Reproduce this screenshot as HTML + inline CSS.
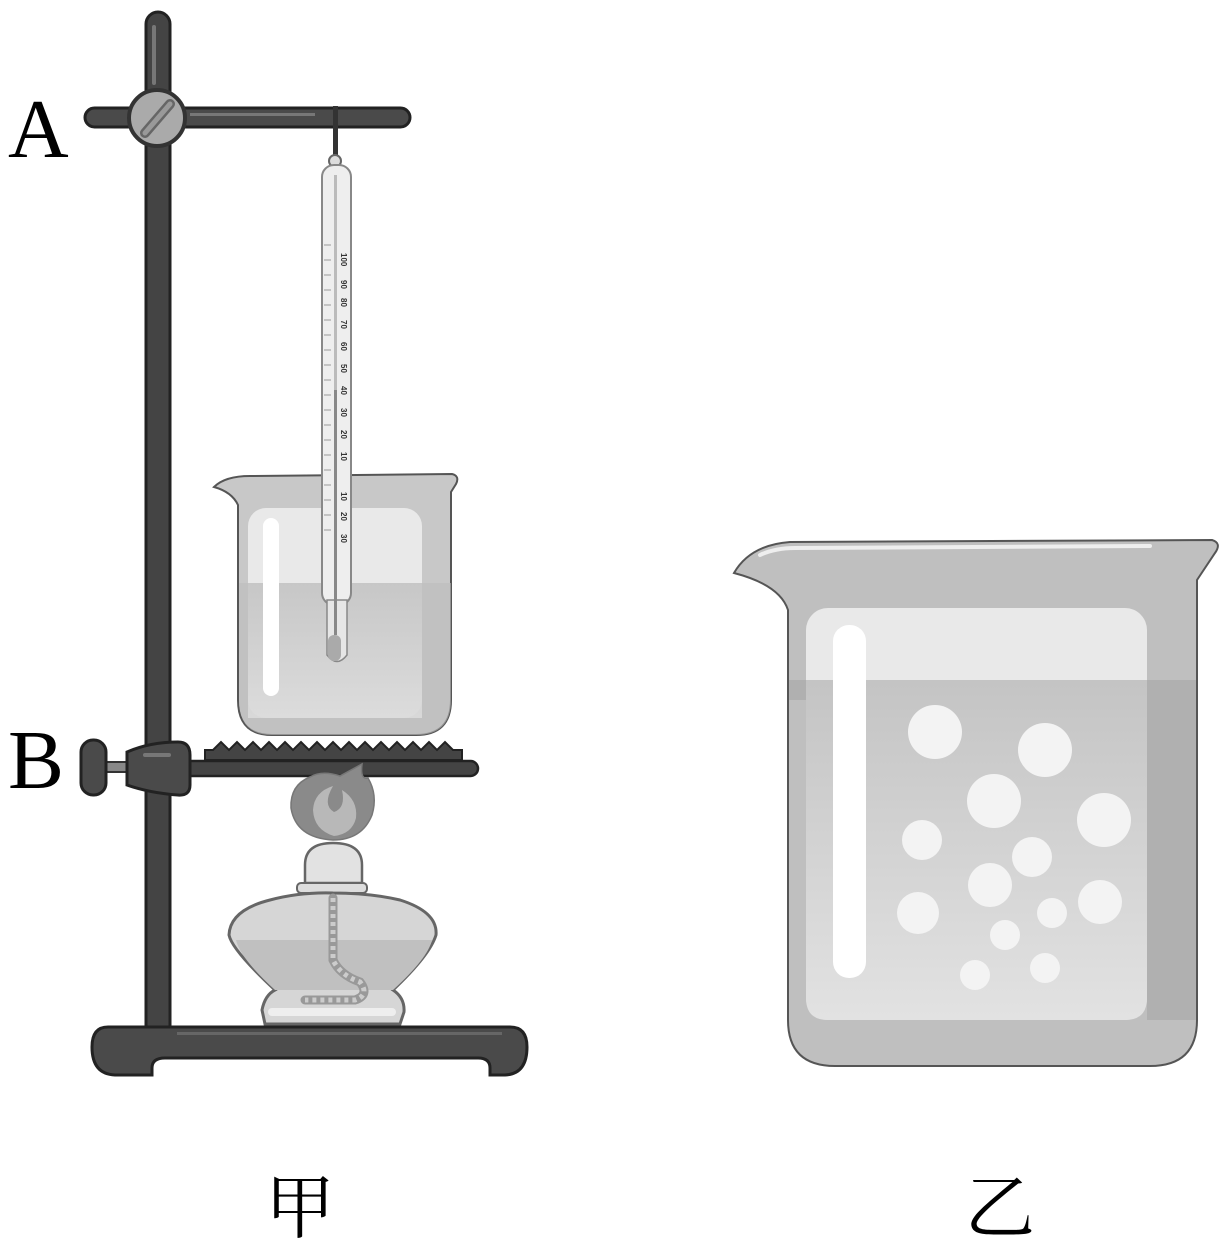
<!DOCTYPE html>
<html><head><meta charset="utf-8"><style>html,body{margin:0;padding:0;background:#fff}svg{display:block}</style></head><body>
<svg width="1227" height="1258" viewBox="0 0 1227 1258" xmlns="http://www.w3.org/2000/svg">
<defs>
<linearGradient id="wat" x1="0" y1="0" x2="0" y2="1"><stop offset="0" stop-color="#c4c4c4"/><stop offset="1" stop-color="#e2e2e2"/></linearGradient>
</defs>
<!-- labels -->
<text x="8" y="157" font-family="Liberation Serif, serif" font-size="84">A</text>
<text x="8" y="788" font-family="Liberation Serif, serif" font-size="84">B</text>
<text x="300" y="1232" text-anchor="middle" font-family="'Noto Serif CJK SC', serif" font-size="70">甲</text>
<text x="1000" y="1232" text-anchor="middle" font-family="'Noto Serif CJK SC', serif" font-size="70">乙</text>

<!-- stand rod -->
<rect x="146" y="12" width="24" height="1030" rx="12" fill="#444" stroke="#222" stroke-width="3"/>
<rect x="152" y="25" width="4" height="60" rx="2" fill="#777"/>
<!-- top arm -->
<rect x="85" y="108" width="325" height="19" rx="9.5" fill="#4a4a4a" stroke="#222" stroke-width="3"/>
<rect x="190" y="113" width="125" height="3" fill="#777"/>
<circle cx="157" cy="118" r="28" fill="#aaa" stroke="#333" stroke-width="4"/>
<path d="M145 133 L170 104" stroke="#666" stroke-width="10" stroke-linecap="round"/>
<path d="M145 133 L170 104" stroke="#999" stroke-width="5" stroke-linecap="round"/>
<!-- hanger -->
<rect x="333" y="106" width="5" height="52" fill="#333"/>
<circle cx="335" cy="161" r="6" fill="#ddd" stroke="#666" stroke-width="2"/>

<!-- beaker 1 -->
<path d="M214 487 Q225 476 250 476 L452 474 Q460 476 456 484 L451 492 L451 700 Q451 735 416 735 L272 735 Q238 735 238 700 L238 505 Q232 492 214 487 Z" fill="#c8c8c8" stroke="#555" stroke-width="2"/>
<rect x="248" y="508" width="174" height="210" rx="18" fill="#e9e9e9"/>
<path d="M239 583 L451 583 L451 700 Q451 735 416 735 L272 735 Q239 735 239 700 Z" fill="#bdbdbd" opacity="0.6"/>
<rect x="248" y="583" width="174" height="135" fill="url(#wat)" opacity="0.7"/>
<rect x="263" y="518" width="16" height="178" rx="8" fill="#fff"/>
<!-- thermometer -->
<rect x="322" y="165" width="29" height="440" rx="12" fill="#eee" stroke="#888" stroke-width="2"/>
<path d="M327 600 L327 655 Q337 668 347 655 L347 600 Z" fill="#e6e6e6" stroke="#888" stroke-width="1.5"/>
<rect x="328" y="635" width="13" height="26" rx="6" fill="#aaa"/>
<rect x="334" y="175" width="3" height="460" fill="#bbb"/>
<rect x="334" y="390" width="3" height="245" fill="#888"/>
<g stroke="#999" stroke-width="1">
<line x1="324" y1="245" x2="331" y2="245"/><line x1="324" y1="260" x2="331" y2="260"/><line x1="324" y1="275" x2="331" y2="275"/><line x1="324" y1="290" x2="331" y2="290"/><line x1="324" y1="305" x2="331" y2="305"/><line x1="324" y1="320" x2="331" y2="320"/><line x1="324" y1="335" x2="331" y2="335"/><line x1="324" y1="350" x2="331" y2="350"/><line x1="324" y1="365" x2="331" y2="365"/><line x1="324" y1="380" x2="331" y2="380"/><line x1="324" y1="395" x2="331" y2="395"/><line x1="324" y1="410" x2="331" y2="410"/><line x1="324" y1="425" x2="331" y2="425"/><line x1="324" y1="440" x2="331" y2="440"/><line x1="324" y1="455" x2="331" y2="455"/><line x1="324" y1="470" x2="331" y2="470"/><line x1="324" y1="485" x2="331" y2="485"/><line x1="324" y1="500" x2="331" y2="500"/><line x1="324" y1="515" x2="331" y2="515"/><line x1="324" y1="530" x2="331" y2="530"/>
</g>
<g font-family="Liberation Sans, sans-serif" font-size="8" font-weight="bold" fill="#333">
<text transform="translate(341,253) rotate(90)">100</text>
<text transform="translate(341,280) rotate(90)">90</text>
<text transform="translate(341,298) rotate(90)">80</text>
<text transform="translate(341,320) rotate(90)">70</text>
<text transform="translate(341,342) rotate(90)">60</text>
<text transform="translate(341,364) rotate(90)">50</text>
<text transform="translate(341,386) rotate(90)">40</text>
<text transform="translate(341,408) rotate(90)">30</text>
<text transform="translate(341,430) rotate(90)">20</text>
<text transform="translate(341,452) rotate(90)">10</text>
<text transform="translate(341,492) rotate(90)">10</text>
<text transform="translate(341,512) rotate(90)">20</text>
<text transform="translate(341,534) rotate(90)">30</text>
</g>

<!-- gauze -->
<path d="M205 760 L205 750 L213 750 L221 742 L229 750 L237 742 L245 750 L253 742 L261 750 L269 742 L277 750 L285 742 L293 750 L301 742 L309 750 L317 742 L325 750 L333 742 L341 750 L349 742 L357 750 L365 742 L373 750 L381 742 L389 750 L397 742 L405 750 L413 742 L421 750 L429 742 L437 750 L445 742 L453 750 L462 750 L462 760 Z" fill="#444" stroke="#222" stroke-width="2"/>
<rect x="180" y="761" width="298" height="15" rx="7.5" fill="#444" stroke="#222" stroke-width="2.5"/>
<!-- B clamp -->
<rect x="100" y="762" width="30" height="10" fill="#888" stroke="#333" stroke-width="2"/>
<rect x="81" y="740" width="25" height="55" rx="12" fill="#4a4a4a" stroke="#222" stroke-width="3"/>
<path d="M127 752 Q150 742 178 742 Q190 742 190 755 L190 785 Q190 796 178 795 Q150 793 127 785 Z" fill="#4a4a4a" stroke="#222" stroke-width="3"/>
<rect x="143" y="753" width="28" height="4" rx="2" fill="#777"/>

<!-- flame -->
<path d="M333 840 Q296 838 291 808 Q290 785 310 777 Q322 770 340 776 L362 764 Q360 780 368 778 Q378 795 372 815 Q362 840 333 840 Z" fill="#8a8a8a" stroke="#777" stroke-width="1.5"/>
<path d="M334 836 Q314 830 313 810 Q314 792 333 786 Q322 805 334 812 Q346 808 342 790 Q358 800 356 818 Q352 834 334 836 Z" fill="#b8b8b8"/>
<!-- lamp -->
<path d="M305 883 L305 865 Q305 843 333 843 Q362 843 362 865 L362 883 Z" fill="#e2e2e2" stroke="#666" stroke-width="2.5"/>
<rect x="297" y="883" width="70" height="10" rx="4" fill="#ddd" stroke="#666" stroke-width="2"/>
<path d="M265 1024 L262 1010 Q265 995 275 990 Q232 950 229 935 Q230 910 270 900 Q300 892 333 893 Q370 893 400 900 Q438 912 436 935 Q430 955 393 990 Q405 998 404 1012 L400 1024 Z" fill="#d6d6d6" stroke="#666" stroke-width="3"/>
<path d="M236 940 L432 940 Q428 958 393 990 L275 990 Q240 958 236 940 Z" fill="#c0c0c0"/>
<rect x="268" y="1008" width="128" height="8" rx="4" fill="#eee"/>
<path d="M333 898 L333 960 Q340 975 360 982 Q370 995 355 1000 L305 1000" fill="none" stroke="#999" stroke-width="9" stroke-linecap="round"/>
<path d="M333 898 L333 960 Q340 975 360 982 Q370 995 355 1000 L305 1000" fill="none" stroke="#ccc" stroke-width="5" stroke-dasharray="4 4"/>

<!-- base -->
<path d="M108 1027 L510 1027 Q527 1027 527 1047 Q527 1074 505 1075 L490 1075 L490 1068 Q490 1058 478 1058 L165 1058 Q152 1058 152 1068 L152 1075 L115 1075 Q92 1074 92 1047 Q92 1027 108 1027 Z" fill="#4a4a4a" stroke="#222" stroke-width="3"/>
<rect x="177" y="1032" width="325" height="3" fill="#666"/>

<!-- beaker 2 -->
<path d="M734 573 Q750 545 790 542 L1212 540 Q1222 543 1215 553 L1197 580 L1197 1020 Q1197 1066 1150 1066 L835 1066 Q788 1066 788 1020 L788 610 Q780 585 734 573 Z" fill="#bfbfbf" stroke="#555" stroke-width="2"/>
<path d="M760 555 Q775 548 795 548 L1150 546" fill="none" stroke="#eee" stroke-width="4" stroke-linecap="round"/>
<rect x="806" y="608" width="341" height="412" rx="22" fill="#e9e9e9"/>
<rect x="789" y="680" width="407" height="20" fill="#b0b0b0"/>
<rect x="1147" y="680" width="49" height="340" fill="#b0b0b0"/>
<path d="M806 680 L1147 680 L1147 998 Q1147 1020 1125 1020 L828 1020 Q806 1020 806 998 Z" fill="url(#wat)"/>
<rect x="833" y="625" width="33" height="353" rx="16" fill="#fff"/>
<g fill="#f3f3f3">
<circle cx="935" cy="732" r="27"/><circle cx="1045" cy="750" r="27"/><circle cx="994" cy="801" r="27"/><circle cx="1104" cy="820" r="27"/>
<circle cx="922" cy="840" r="20"/><circle cx="1032" cy="857" r="20"/><circle cx="990" cy="885" r="22"/><circle cx="918" cy="913" r="21"/>
<circle cx="1100" cy="902" r="22"/><circle cx="1052" cy="913" r="15"/><circle cx="1005" cy="935" r="15"/><circle cx="975" cy="975" r="15"/><circle cx="1045" cy="968" r="15"/>
</g>
</svg>
</body></html>
